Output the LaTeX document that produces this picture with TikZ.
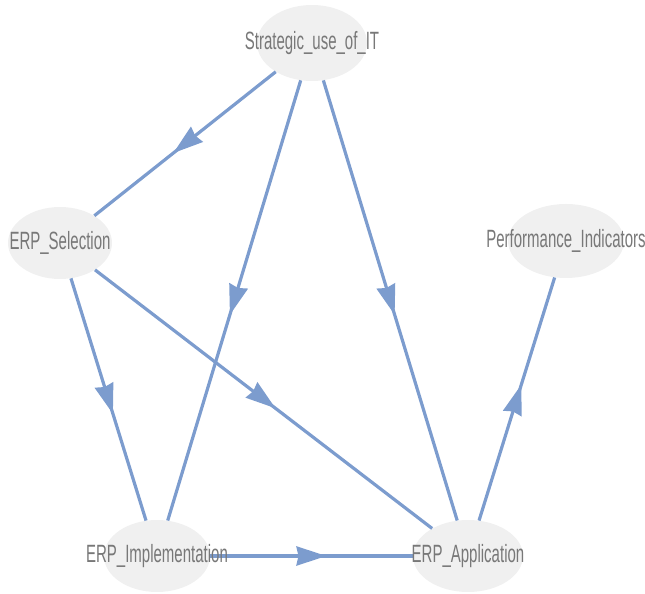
\documentclass[tikz,border=0pt]{standalone}
\usepackage{fontspec}
\newfontfamily\nodefont[FakeStretch=0.6]{Liberation Sans}
\usetikzlibrary{shapes.geometric,arrows.meta,decorations.markings}
\definecolor{edgeblue}{RGB}{124,156,206}
\definecolor{nodegray}{RGB}{240,240,240}
\definecolor{textgray}{RGB}{120,120,120}

\begin{document}
\begin{tikzpicture}[
    x=1pt, y=1pt,
    var/.style={ellipse, fill=nodegray, inner sep=0pt, minimum width=#1, minimum height=72pt},
    var/.default=108pt,
    lbl/.style={font=\nodefont\fontsize{25}{28}\selectfont, text=textgray, inner sep=0pt},
    link/.style={edgeblue, line width=3.2pt, postaction={decorate},
        decoration={markings, mark=at position 0.5 with {\arrow[xshift=15pt]{Stealth[length=30pt,width=19pt,inset=2pt]}}}}
]
    \useasboundingbox (0,0) rectangle (645,594);

    % Variables
    \node[var=110pt, minimum height=76pt] (strat) at (312,551) {};
    \node[var=104pt] (sel) at (60,351) {};
    \node[var=116pt, minimum height=74pt] (perf) at (566,353) {};
    \node[var=106pt] (impl) at (157,38) {};
    \node[var=110pt] (app) at (468,38) {};

    % Paths
    \draw[link] (strat) -- (sel);
    \draw[link] (strat) -- (impl);
    \draw[link] (strat) -- (app);
    \draw[link] (sel) -- (impl);
    \draw[link] (sel) -- (app);
    \draw[link] (impl) -- (app);
    \draw[link] (app) -- (perf);

    % Labels
    \node[lbl] (strat-t) at (strat) {Strategic\_use\_of\_IT};
    \node[lbl] (sel-t) at (sel) {ERP\_Selection};
    \node[lbl] (perf-t) at (perf) {Performance\_Indicators};
    \node[lbl] (impl-t) at (impl) {ERP\_Implementation};
    \node[lbl] (app-t) at (app) {ERP\_Application};
\end{tikzpicture}
\end{document}
